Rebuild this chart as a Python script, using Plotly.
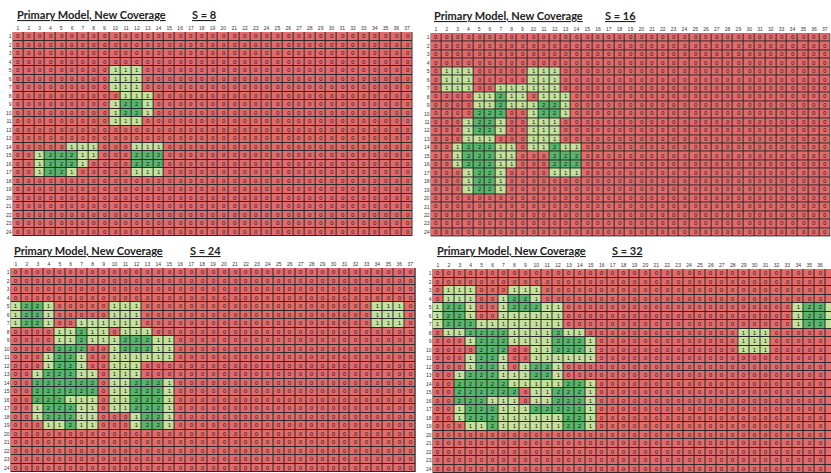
import plotly.graph_objects as go

# Grid values: 24 rows x 37 columns, written in groups of 5 columns
s8_rows = [
    "00000 00000 00000 00000 00000 00000 00000 00",
    "00000 00000 00000 00000 00000 00000 00000 00",
    "00000 00000 00000 00000 00000 00000 00000 00",
    "00000 00000 00000 00000 00000 00000 00000 00",
    "00000 00001 11000 00000 00000 00000 00000 00",
    "00000 00001 11000 00000 00000 00000 00000 00",
    "00000 00001 11000 00000 00000 00000 00000 00",
    "00000 00000 11100 00000 00000 00000 00000 00",
    "00000 00001 22100 00000 00000 00000 00000 00",
    "00000 00001 22100 00000 00000 00000 00000 00",
    "00000 00001 11000 00000 00000 00000 00000 00",
    "00000 00000 00000 00000 00000 00000 00000 00",
    "00000 00000 00000 00000 00000 00000 00000 00",
    "00000 11100 01110 00000 00000 00000 00000 00",
    "00122 21100 02220 00000 00000 00000 00000 00",
    "00122 21000 02220 00000 00000 00000 00000 00",
    "00122 10000 01110 00000 00000 00000 00000 00",
    "00000 00000 00000 00000 00000 00000 00000 00",
    "00000 00000 00000 00000 00000 00000 00000 00",
    "00000 00000 00000 00000 00000 00000 00000 00",
    "00000 00000 00000 00000 00000 00000 00000 00",
    "00000 00000 00000 00000 00000 00000 00000 00",
    "00000 00000 00000 00000 00000 00000 00000 00",
    "00000 00000 00000 00000 00000 00000 00000 00",
]

s16_rows = [
    "00000 00000 00000 00000 00000 00000 00000 00",
    "00000 00000 00000 00000 00000 00000 00000 00",
    "00000 00000 00000 00000 00000 00000 00000 00",
    "00000 00000 00000 00000 00000 00000 00000 00",
    "01110 00001 11000 00000 00000 00000 00000 00",
    "01110 00001 11000 00000 00000 00000 00000 00",
    "01110 01111 11000 00000 00000 00000 00000 00",
    "00001 12110 11100 00000 00000 00000 00000 00",
    "00001 12111 22100 00000 00000 00000 00000 00",
    "00002 22001 22100 00000 00000 00000 00000 00",
    "00012 21001 11000 00000 00000 00000 00000 00",
    "00012 21001 11000 00000 00000 00000 00000 00",
    "00011 10001 11000 00000 00000 00000 00000 00",
    "00122 21101 12110 00000 00000 00000 00000 00",
    "00122 21100 02220 00000 00000 00000 00000 00",
    "00122 21100 02220 00000 00000 00000 00000 00",
    "00012 21000 01110 00000 00000 00000 00000 00",
    "00012 21000 00000 00000 00000 00000 00000 00",
    "00012 21000 00000 00000 00000 00000 00000 00",
    "00000 00000 00000 00000 00000 00000 00000 00",
    "00000 00000 00000 00000 00000 00000 00000 00",
    "00000 00000 00000 00000 00000 00000 00000 00",
    "00000 00000 00000 00000 00000 00000 00000 00",
    "00000 00000 00000 00000 00000 00000 00000 00",
]

s24_rows = [
    "00000 00000 00000 00000 00000 00000 00000 00",
    "00000 00000 00000 00000 00000 00000 00000 00",
    "00000 00000 00000 00000 00000 00000 00000 00",
    "00000 00000 00000 00000 00000 00000 00000 00",
    "12210 00001 11000 00000 00000 00000 00011 10",
    "12210 00001 11000 00000 00000 00000 00011 10",
    "12210 01111 11000 00000 00000 00000 00011 10",
    "00001 12110 11100 00000 00000 00000 00000 00",
    "00001 12111 22211 00000 00000 00000 00000 00",
    "00002 22001 22211 00000 00000 00000 00000 00",
    "00012 21001 11111 00000 00000 00000 00000 00",
    "00012 21001 11000 00000 00000 00000 00000 00",
    "00122 21101 11000 00000 00000 00000 00000 00",
    "00222 22201 12221 00000 00000 00000 00000 00",
    "00222 22201 12221 00000 00000 00000 00000 00",
    "00222 11101 12221 00000 00000 00000 00000 00",
    "00122 21101 12221 00000 00000 00000 00000 00",
    "00122 21100 01221 00000 00000 00000 00000 00",
    "00011 21100 01221 00000 00000 00000 00000 00",
    "00000 00000 00000 00000 00000 00000 00000 00",
    "00000 00000 00000 00000 00000 00000 00000 00",
    "00000 00000 00000 00000 00000 00000 00000 00",
    "00000 00000 00000 00000 00000 00000 00000 00",
    "00000 00000 00000 00000 00000 00000 00000 00",
]

s32_rows = [
    "00000 00000 00000 00000 00000 00000 00000 00",
    "00000 00000 00000 00000 00000 00000 00000 00",
    "01110 00111 00000 00000 00000 00000 00000 00",
    "01110 01221 00000 00000 00000 00000 00000 00",
    "12210 01222 11000 00000 00000 00000 00012 21",
    "12210 01111 11000 00000 00000 00000 00012 21",
    "12221 11111 11000 00000 00000 00000 00012 21",
    "01122 22111 12110 00000 00000 00011 10000 00",
    "00012 22111 12221 00000 00000 00011 10000 00",
    "00002 22001 12221 00000 00000 00011 10000 00",
    "00012 21001 11111 00000 00000 00000 00000 00",
    "00012 21012 21000 00000 00000 00000 00000 00",
    "00122 21112 21000 00000 00000 00000 00000 00",
    "00222 22111 11221 00000 00000 00000 00000 00",
    "00222 22201 12221 00000 00000 00000 00000 00",
    "00222 11101 12221 00000 00000 00000 00000 00",
    "00122 21112 22221 00000 00000 00000 00000 00",
    "00122 21111 11221 00000 00000 00000 00000 00",
    "00011 21111 11221 00000 00000 00000 00000 00",
    "00000 00000 00000 00000 00000 00000 00000 00",
    "00000 00000 00000 00000 00000 00000 00000 00",
    "00000 00000 00000 00000 00000 00000 00000 00",
    "00000 00000 00000 00000 00000 00000 00000 00",
    "00000 00000 00000 00000 00000 00000 00000 00",
]

col_labels = list(range(1, 38))
row_labels = list(range(1, 25))
panel_titles = ["Primary Model, New Coverage"] * 4
panel_s = ["S = 8", "S = 16", "S = 24", "S = 32"]
grids = [s8_rows, s16_rows, s24_rows, s32_rows]

W, H = 831, 473
RED, LGREEN, DGREEN = "#E46A6B", "#C4E29C", "#58B56C"

# pixel boxes for each grid: (left, right, top, bottom, xmax)
boxes = [
    (12.6, 412.5, 32.0, 236.0, 37.5),
    (430.6, 830.2, 33.4, 236.4, 37.5),
    (10.5, 415.7, 268.0, 472.0, 37.5),
    (432.5, 831.0, 269.0, 473.0, 37.0),
]
# title positions (x px, y px) and S label x px
title_pos = [(15, 14, 190), (432, 15, 603), (12, 250, 188), (435, 250, 610)]


def parse(rows):
    return [[int(c) for c in r.replace(" ", "")] for r in rows]


fig = go.Figure()
layout = dict(
    width=W, height=H, margin=dict(l=0, r=0, t=0, b=0),
    paper_bgcolor="white", plot_bgcolor="#2b2b2b", showlegend=False,
)
annotations = []
for i, (rows, box) in enumerate(zip(grids, boxes)):
    z = parse(rows)
    n = "" if i == 0 else str(i + 1)
    fig.add_trace(go.Heatmap(
        z=z, x=col_labels, y=row_labels,
        colorscale=[[0, RED], [0.5, LGREEN], [1, DGREEN]],
        zmin=0, zmax=2, showscale=False, xgap=1, ygap=1,
        texttemplate="%{z}", textfont=dict(size=6, color="#1a1a1a", family="Arial"),
        hoverinfo="skip", xaxis="x" + n, yaxis="y" + n,
    ))
    left, right, top, bottom, xmax = box
    layout["xaxis" + n] = dict(
        domain=[left / W, min(right / W, 1.0)], range=[0.5, xmax], side="top",
        tickvals=col_labels, ticks="", showgrid=False, zeroline=False,
        tickfont=dict(size=5, color="#333", family="Arial"), anchor="y" + n,
        fixedrange=True,
    )
    layout["yaxis" + n] = dict(
        domain=[max(1 - bottom / H, 0.0), 1 - top / H], range=[24.5, 0.5],
        tickvals=row_labels, ticks="", showgrid=False, zeroline=False,
        tickfont=dict(size=5, color="#333", family="Arial"), anchor="x" + n,
        fixedrange=True,
    )
    tx, ty, sx = title_pos[i]
    annotations.append(dict(
        text="<b><u>" + panel_titles[i] + "</u></b>", x=tx / W, y=1 - ty / H,
        xref="paper", yref="paper", xanchor="left", yanchor="middle",
        showarrow=False, font=dict(size=11, color="#222", family="Lato"),
    ))
    annotations.append(dict(
        text="<b><u>" + panel_s[i] + "</u></b>", x=sx / W, y=1 - ty / H,
        xref="paper", yref="paper", xanchor="left", yanchor="middle",
        showarrow=False, font=dict(size=11, color="#222", family="Lato"),
    ))

layout["annotations"] = annotations
fig.update_layout(**layout)
fig.write_html("out.html")
